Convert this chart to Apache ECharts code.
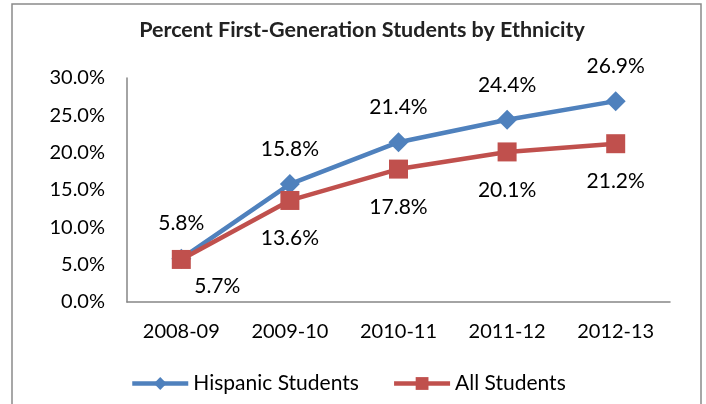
<!DOCTYPE html>
<html>
<head>
<meta charset="utf-8">
<script src="https://cdn.jsdelivr.net/npm/echarts@6/dist/echarts.min.js"></script>
<style>
html,body{margin:0;padding:0;background:#fff;}
#chart{width:706px;height:404px;}
</style>
</head>
<body>
<div id="chart"></div>
<script>
const categories = ['2008-09', '2009-10', '2010-11', '2011-12', '2012-13'];
const hispanic = [5.8, 15.8, 21.4, 24.4, 26.9];
const allStudents = [5.7, 13.6, 17.8, 20.1, 21.2];
const yTicks = [0, 5, 10, 15, 20, 25, 30];

const FONT = 'Lato';
const chart = echarts.init(document.getElementById('chart'), null, {renderer: 'canvas'});

const allData = allStudents.map((v, i) => i === 0
  ? {value: v, label: {offset: [36, 27]}}
  : v);

chart.setOption({
  animation: false,
  backgroundColor: '#ffffff',
  textStyle: {fontFamily: FONT},
  graphic: [{
    type: 'rect',
    shape: {x: 12, y: 4, width: 689, height: 420},
    style: {fill: 'none', stroke: '#8a8a8a', lineWidth: 1.5},
    silent: true
  }],
  title: {
    text: 'Percent First-Generation Students by Ethnicity',
    left: 357, top: 14, textAlign: 'center',
    textStyle: {fontFamily: FONT, fontSize: 21.5, fontWeight: 'bold', color: '#222'}
  },
  grid: {left: 127, right: 36, top: 78, bottom: 102, containLabel: false},
  legend: {
    bottom: 5, left: 125,
    itemWidth: 56, itemHeight: 16, itemGap: 33,
    lineStyle: {width: 4.5},
    textStyle: {fontFamily: FONT, fontSize: 21, color: '#000'},
    data: ['Hispanic Students', 'All Students']
  },
  xAxis: {
    type: 'category', data: categories, boundaryGap: true,
    axisLine: {lineStyle: {color: '#868686', width: 1.5}},
    axisTick: {show: false},
    axisLabel: {fontFamily: FONT, fontSize: 20, color: '#000', margin: 20}
  },
  yAxis: {
    type: 'value', min: yTicks[0], max: yTicks[yTicks.length - 1], interval: 5,
    axisLine: {show: true, lineStyle: {color: '#868686', width: 1.5}},
    axisTick: {show: false},
    splitLine: {show: false},
    axisLabel: {fontFamily: FONT, fontSize: 20, color: '#000', margin: 22,
      formatter: v => v.toFixed(1) + '%'}
  },
  series: [{
    name: 'Hispanic Students', type: 'line', data: hispanic,
    symbol: 'diamond', symbolSize: 20,
    lineStyle: {color: '#4F81BD', width: 4.5},
    itemStyle: {color: '#4F81BD'},
    label: {show: true, position: 'inside', offset: [0, -35],
      fontFamily: FONT, fontSize: 21, color: '#000',
      formatter: p => p.value.toFixed(1) + '%'},
    z: 2
  }, {
    name: 'All Students', type: 'line', data: allData,
    symbol: 'rect', symbolSize: 19,
    lineStyle: {color: '#C0504D', width: 4.5},
    itemStyle: {color: '#C0504D'},
    label: {show: true, position: 'inside', offset: [0, 38],
      fontFamily: FONT, fontSize: 21, color: '#000',
      formatter: p => Number(p.value).toFixed(1) + '%'},
    z: 3
  }]
});
</script>
</body>
</html>
